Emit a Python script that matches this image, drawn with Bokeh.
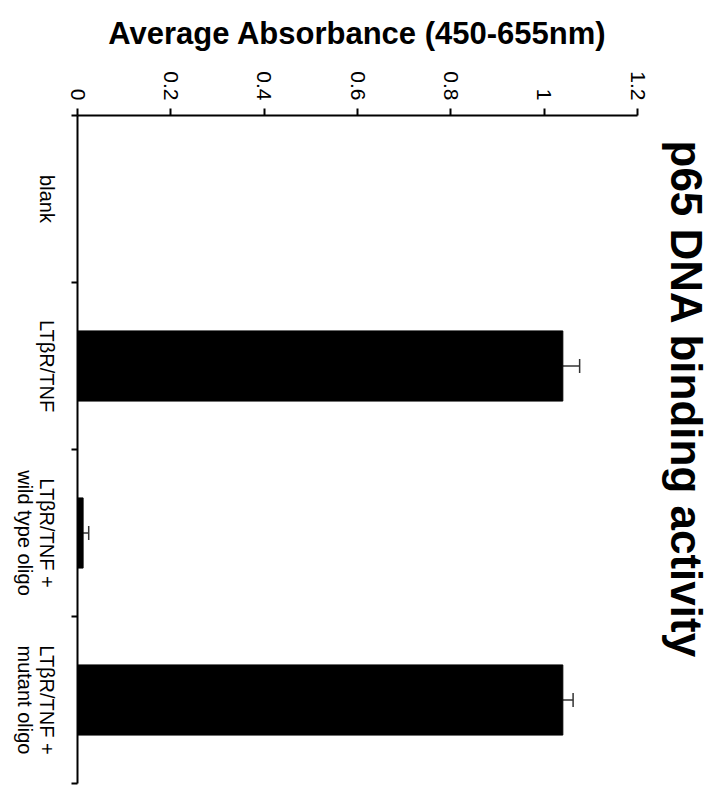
import math

from bokeh.core.properties import value
from bokeh.embed import file_html
from bokeh.layouts import row
from bokeh.models import ColumnDataSource, FixedTicker, Range1d, TeeHead, Whisker
from bokeh.plotting import figure
from bokeh.resources import INLINE

# Samples, top to bottom
categories = ["blank", "LTβR/TNF", "LTβR/TNF + wild type oligo", "LTβR/TNF + mutant oligo"]
category_labels = ["blank", "LTβR/TNF", "LTβR/TNF +\nwild type oligo", "LTβR/TNF +\nmutant oligo"]

# Average absorbance and its error
absorbance = [0.0, 1.04, 0.012, 1.04]
absorbance_err = [0.0, 0.036, 0.012, 0.022]

# Value axis ticks
tick_values = [0, 0.2, 0.4, 0.6, 0.8, 1.0, 1.2]
tick_labels = ["0", "0.2", "0.4", "0.6", "0.8", "1", "1.2"]

chart_title = "p65 DNA binding activity"
value_title = "Average Absorbance (450-655nm)"

FONT = "Liberation Sans"
HEIGHT = 785
TOP = 115
BOTTOM = 2

n = len(categories)
slot_centers = [i + 0.5 for i in range(n)]
slot_edges = list(range(n + 1))
slots = Range1d(n, 0)


def bare(fig):
    fig.outline_line_color = None
    fig.background_fill_color = "white"
    fig.border_fill_color = "white"
    fig.xgrid.visible = False
    fig.ygrid.visible = False
    return fig


# ---- main plot -------------------------------------------------------------
p = bare(figure(
    width=591, height=HEIGHT,
    x_range=Range1d(0, 1.2), y_range=slots,
    x_axis_location="above", y_axis_location="left",
    toolbar_location=None, output_backend="svg",
    min_border_left=17, min_border_top=TOP, min_border_right=14, min_border_bottom=BOTTOM,
))

bars = ColumnDataSource(dict(y=slot_centers, val=absorbance, name=categories,
                             label=category_labels))
p.hbar(y="y", right="val", left=0, height=0.42, source=bars,
       fill_color="black", line_color="black")

err_idx = [i for i, e in enumerate(absorbance_err) if e > 0]
errs = ColumnDataSource(dict(
    y=[slot_centers[i] for i in err_idx],
    lo=[absorbance[i] for i in err_idx],
    hi=[absorbance[i] + absorbance_err[i] for i in err_idx],
))
p.add_layout(Whisker(base="y", lower="lo", upper="hi", dimension="width", source=errs,
                     line_color="#333333", line_width=1.5,
                     upper_head=TeeHead(size=14, line_color="#333333", line_width=1.5),
                     lower_head=None))

xa = p.xaxis[0]
xa.ticker = FixedTicker(ticks=tick_values, minor_ticks=[])
xa.major_label_overrides = {v: s for v, s in zip(tick_values, tick_labels)}
xa.major_label_orientation = -math.pi / 2
xa.major_tick_out = 7
xa.major_tick_in = 0
xa.minor_tick_line_color = None
xa.axis_line_width = 2
xa.major_tick_line_width = 2
xa.major_label_text_font = FONT
xa.major_label_text_font_size = "21px"
xa.major_label_text_color = "black"
xa.major_label_standoff = 8
xa.axis_label = value_title
xa.axis_label_text_font = FONT
xa.axis_label_text_font_style = "bold"
xa.axis_label_text_font_size = "31px"
xa.axis_label_text_color = "black"
xa.axis_label_standoff = 17

# sample axis: tick marks at the slot edges only
ya = p.yaxis[0]
ya.ticker = FixedTicker(ticks=slot_centers, minor_ticks=slot_edges)
ya.major_label_overrides = {c: "" for c in slot_centers}
ya.major_tick_line_color = None
ya.minor_tick_out = 6
ya.minor_tick_in = 0
ya.minor_tick_line_width = 2
ya.minor_tick_line_color = "black"
ya.axis_line_width = 2

# ---- sample names, beside the sample axis ----------------------------------
names = bare(figure(
    width=60, height=HEIGHT, x_range=Range1d(0, 1), y_range=slots,
    x_axis_location=None, y_axis_location=None,
    toolbar_location=None, output_backend="svg",
    min_border_left=0, min_border_right=0, min_border_top=TOP, min_border_bottom=BOTTOM,
))
names.text(x=1, y="y", text="label", source=bars, x_offset=-3,
           angle=-math.pi / 2, text_align="center", text_baseline="top",
           text_font=value(FONT), text_font_size="20px", text_color="black",
           text_line_height=1.0)

# ---- chart title, reading downwards on the right ----------------------------
side = bare(figure(
    width=69, height=HEIGHT, x_range=Range1d(0, 1), y_range=Range1d(0, 1),
    x_axis_location=None, y_axis_location=None,
    toolbar_location=None, output_backend="svg",
    min_border_left=0, min_border_right=0, min_border_top=TOP, min_border_bottom=BOTTOM,
))
side.text(x=[0.5], y=[1], text=[chart_title], y_offset=25,
          angle=-math.pi / 2, text_align="left", text_baseline="middle",
          text_font=value(FONT), text_font_style="bold", text_font_size="44px",
          text_color="black")

layout = row(names, p, side, spacing=0)
open("out.html", "w").write(file_html(layout, INLINE))
